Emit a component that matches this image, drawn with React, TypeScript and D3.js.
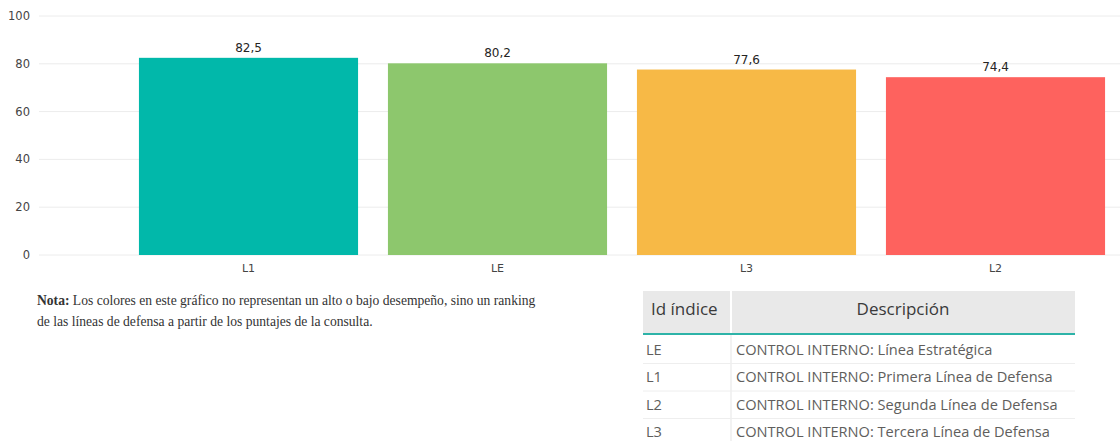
import { useEffect, useRef } from "react";
import * as d3 from "d3";

const categories = ["L1", "LE", "L3", "L2"];
const values = [82.5, 80.2, 77.6, 74.4];
const barColors = ["#01B8AA", "#8DC76D", "#F7B946", "#FE625E"];
const yTicks = [0, 20, 40, 60, 80, 100];

const tableIds = ["LE", "L1", "L2", "L3"];
const tableDescs = [
  "CONTROL INTERNO: Línea Estratégica",
  "CONTROL INTERNO: Primera Línea de Defensa",
  "CONTROL INTERNO: Segunda Línea de Defensa",
  "CONTROL INTERNO: Tercera Línea de Defensa",
];

const W = 1120;
const H = 441;

const App = () => {
  const svgRef = useRef<SVGSVGElement | null>(null);

  useEffect(() => {
    const svg = d3.select(svgRef.current);
    svg.selectAll("*").remove();

    const x = d3
      .scaleBand()
      .domain(categories)
      .range([124, 1120])
      .paddingInner(0.12)
      .paddingOuter(0.06);

    const y = d3.scaleLinear().domain([0, 100]).range([255, 16]);

    // grid + y labels
    const grid = svg.append("g");
    grid
      .selectAll("line")
      .data(yTicks)
      .enter()
      .append("line")
      .attr("x1", 39)
      .attr("x2", W)
      .attr("y1", (d) => y(d))
      .attr("y2", (d) => y(d))
      .attr("stroke", "#ececec")
      .attr("stroke-width", 1);

    grid
      .selectAll("text")
      .data(yTicks)
      .enter()
      .append("text")
      .attr("x", 30)
      .attr("y", (d) => y(d))
      .attr("dy", "0.35em")
      .attr("text-anchor", "end")
      .style("font-family", "'DejaVu Sans', sans-serif")
      .style("font-size", "11.5px")
      .attr("fill", "#444")
      .text((d) => d);

    // bars
    svg
      .selectAll(".bar")
      .data(values)
      .enter()
      .append("rect")
      .attr("class", "bar")
      .attr("x", (d, i) => x(categories[i]) as number)
      .attr("y", (d) => y(d))
      .attr("width", x.bandwidth())
      .attr("height", (d) => y(0) - y(d))
      .attr("fill", (d, i) => barColors[i]);

    // value labels
    svg
      .selectAll(".val")
      .data(values)
      .enter()
      .append("text")
      .attr("class", "val")
      .attr("x", (d, i) => (x(categories[i]) as number) + x.bandwidth() / 2)
      .attr("y", (d) => y(d) - 6)
      .attr("text-anchor", "middle")
      .style("font-family", "'DejaVu Sans', sans-serif")
      .style("font-size", "12px")
      .attr("fill", "#252423")
      .text((d) => d.toFixed(1).replace(".", ","));

    // x labels
    svg
      .selectAll(".xl")
      .data(categories)
      .enter()
      .append("text")
      .attr("class", "xl")
      .attr("x", (d) => (x(d) as number) + x.bandwidth() / 2)
      .attr("y", 272)
      .attr("text-anchor", "middle")
      .style("font-family", "'DejaVu Sans', sans-serif")
      .style("font-size", "11px")
      .attr("fill", "#444")
      .text((d) => d);

    // note
    const note = svg
      .append("g")
      .style("font-family", "'Liberation Serif', 'Times New Roman', serif")
      .style("font-size", "13.6px")
      .attr("fill", "#333");
    const t1 = note.append("text").attr("x", 37).attr("y", 305);
    t1.append("tspan").attr("font-weight", "bold").text("Nota:");
    t1.append("tspan").text(
      " Los colores en este gráfico no representan un alto o bajo desempeño, sino un ranking"
    );
    note
      .append("text")
      .attr("x", 37)
      .attr("y", 326)
      .text("de las líneas de defensa a partir de los puntajes de la consulta.");

    // table
    const tx0 = 643;
    const tx1 = 1075;
    const colX = 731;
    const headTop = 291;
    const headBot = 334;
    const rowH = 27.5;
    const rowY = d3
      .scaleBand()
      .domain(tableIds)
      .range([headBot + 2, headBot + 2 + rowH * tableIds.length]);

    const table = svg
      .append("g")
      .style("font-family", "'Open Sans', 'Noto Sans', sans-serif");

    table
      .append("rect")
      .attr("x", tx0)
      .attr("y", headTop)
      .attr("width", tx1 - tx0)
      .attr("height", headBot - headTop)
      .attr("fill", "#e9e9e9");
    table
      .append("line")
      .attr("x1", colX)
      .attr("x2", colX)
      .attr("y1", headTop)
      .attr("y2", H)
      .attr("stroke", "#ffffff")
      .attr("stroke-width", 2);
    table
      .append("line")
      .attr("x1", colX)
      .attr("x2", colX)
      .attr("y1", headBot)
      .attr("y2", H)
      .attr("stroke", "#eeeeee")
      .attr("stroke-width", 1.5);
    table
      .append("line")
      .attr("x1", tx0)
      .attr("x2", tx1)
      .attr("y1", headBot)
      .attr("y2", headBot)
      .attr("stroke", "#2DB3A8")
      .attr("stroke-width", 2);

    table
      .append("text")
      .attr("x", 651)
      .attr("y", 309)
      .attr("dy", "0.35em")
      .style("font-size", "17px")
      .attr("fill", "#3a3a3a")
      .text("Id índice");
    table
      .append("text")
      .attr("x", (colX + tx1) / 2)
      .attr("y", 309)
      .attr("dy", "0.35em")
      .attr("text-anchor", "middle")
      .style("font-size", "17px")
      .attr("fill", "#3a3a3a")
      .text("Descripción");

    const rows = table
      .selectAll(".row")
      .data(tableIds)
      .enter()
      .append("g")
      .attr("class", "row");

    rows
      .append("line")
      .attr("x1", tx0)
      .attr("x2", tx1)
      .attr("y1", (d) => (rowY(d) as number) + rowH)
      .attr("y2", (d) => (rowY(d) as number) + rowH)
      .attr("stroke", "#eeeeee")
      .attr("stroke-width", 1);

    rows
      .append("text")
      .attr("x", 646)
      .attr("y", (d) => (rowY(d) as number) + rowH / 2)
      .attr("dy", "0.35em")
      .style("font-size", "14.6px")
      .attr("fill", "#605e5c")
      .text((d) => d);

    rows
      .append("text")
      .attr("x", 736)
      .attr("y", (d) => (rowY(d) as number) + rowH / 2)
      .attr("dy", "0.35em")
      .style("font-size", "14.6px")
      .attr("fill", "#605e5c")
      .text((d, i) => tableDescs[i]);
  }, []);

  return (
    <svg
      ref={svgRef}
      width={W}
      height={H}
      style={{ position: "absolute", left: 0, top: 0, background: "#fff" }}
    ></svg>
  );
};

export default App;
